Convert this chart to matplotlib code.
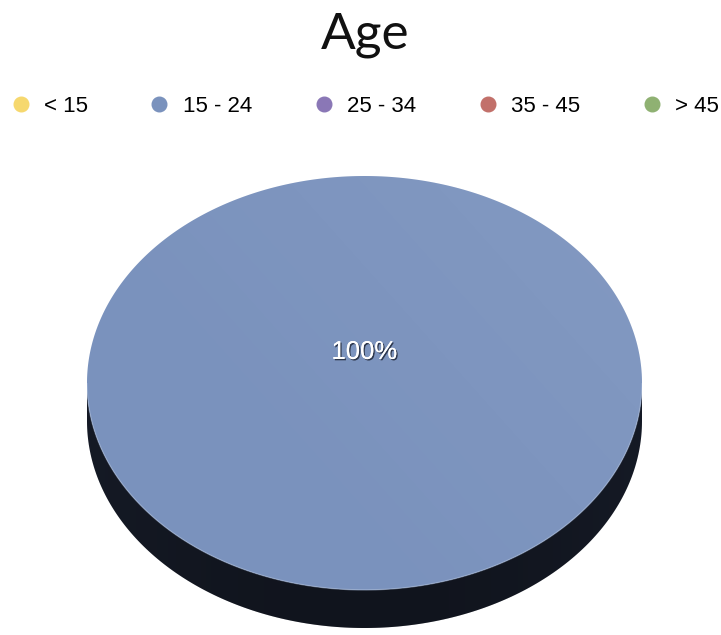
import numpy as np
import matplotlib
matplotlib.use("Agg")
import matplotlib.pyplot as plt
from matplotlib.patches import Polygon
from matplotlib.lines import Line2D
from matplotlib import patheffects as pe

# Age distribution of respondents (percent)
categories = ["< 15", "15 - 24", "25 - 34", "35 - 45", "> 45"]
shares = [0, 100, 0, 0, 0]
colors = ["#f6d86e", "#7a92bd", "#8a77b6", "#c2706a", "#8fb172"]
side_colors = ["#3b321a", "#161b27", "#1d1830", "#32191a", "#1d2a18"]
title = "Age"

W, H, DPI = 721, 635, 100
fig = plt.figure(figsize=(W / DPI, H / DPI), dpi=DPI)
fig.patch.set_facecolor("white")

fig.text(0.506, 1 - 48 / H, title, ha="center", va="baseline",
         fontsize=37, family="Lato", fontweight="normal", color="#111111")

handles = [Line2D([], [], marker="o", linestyle="none", markersize=10.5,
                  markerfacecolor=c, markeredgecolor=c) for c in colors]
fig.legend(handles, categories, loc="center", bbox_to_anchor=(0.505, 1 - 106 / H),
           ncol=5, frameon=False, prop={"family": "Liberation Sans", "size": 16},
           handletextpad=0.55, columnspacing=2.72, handlelength=1.0,
           borderaxespad=0, borderpad=0)

# pie drawn as a tilted disc: unit circle top face, thickness t below
t = 0.184
ax = fig.add_axes([87 / W, 1 - 628 / H, 555 / W, 452 / H])
ax.set_xlim(-1, 1)
ax.set_ylim(-1 - t, 1)
ax.axis("off")

total = float(sum(shares))
start = 90.0
for val, col, scol in zip(shares, colors, side_colors):
    if val <= 0:
        continue
    span = 360.0 * val / total
    a0, a1 = start, start + span
    th = np.radians(np.linspace(a0, a1, 400))
    xs, ys = np.cos(th), np.sin(th)

    # visible side wall: front half of the rim (angles where sin < 0)
    front = np.sin(th) <= 0
    if front.any():
        fx, fy = xs[front], ys[front]
        order = np.argsort(fx)
        fx, fy = fx[order], fy[order]
        side = np.concatenate([np.column_stack([fx, fy]),
                               np.column_stack([fx[::-1], fy[::-1] - t])])
        sp = Polygon(side, closed=True, facecolor=scol, edgecolor="none", zorder=1)
        ax.add_patch(sp)
        gx = np.linspace(-1, 1, 300)
        img = np.zeros((2, 300, 4))
        img[..., 3] = np.clip(0.25 - 0.2 * np.abs(gx) ** 2, 0, 1)
        im = ax.imshow(img, extent=[-1, 1, -1 - t, 0.1], aspect="auto",
                       zorder=2, interpolation="bilinear")
        im.set_clip_path(sp)

    # top face
    if span >= 360:
        pts = np.column_stack([xs, ys])
    else:
        pts = np.vstack([[0, 0], np.column_stack([xs, ys])])
    top = Polygon(pts, closed=True, facecolor=col, edgecolor="none", zorder=3)
    ax.add_patch(top)
    gx, gy = np.meshgrid(np.linspace(-1, 1, 200), np.linspace(-1, 1, 200))
    light = np.zeros((200, 200, 4))
    light[..., :3] = 1.0
    light[..., 3] = np.clip(0.02 + 0.03 * gx + 0.02 * gy, 0, 1)
    im2 = ax.imshow(light, extent=[-1, 1, -1, 1], origin="lower", aspect="auto",
                    zorder=4, interpolation="bilinear")
    im2.set_clip_path(top)

    # thin rim highlight along the front edge
    ax.plot(xs[front], ys[front], color="#a9bcdc", lw=1.0, alpha=0.5, zorder=5)

    pct = f"{val / total * 100:.0f}%"
    if span >= 360:
        lx, ly = 0.0, 0.15
    else:
        mid = np.radians((a0 + a1) / 2)
        lx, ly = 0.55 * np.cos(mid), 0.55 * np.sin(mid)
    ax.text(lx, ly, pct, ha="center", va="center", fontsize=18.5,
            family="Liberation Sans", color="white", zorder=6,
            path_effects=[pe.withSimplePatchShadow(offset=(1, -1), shadow_rgbFace="#1a2030",
                                                   alpha=0.8),
                          pe.Normal()])
    start = a1

fig.savefig("out.png", dpi=DPI, facecolor="white")
